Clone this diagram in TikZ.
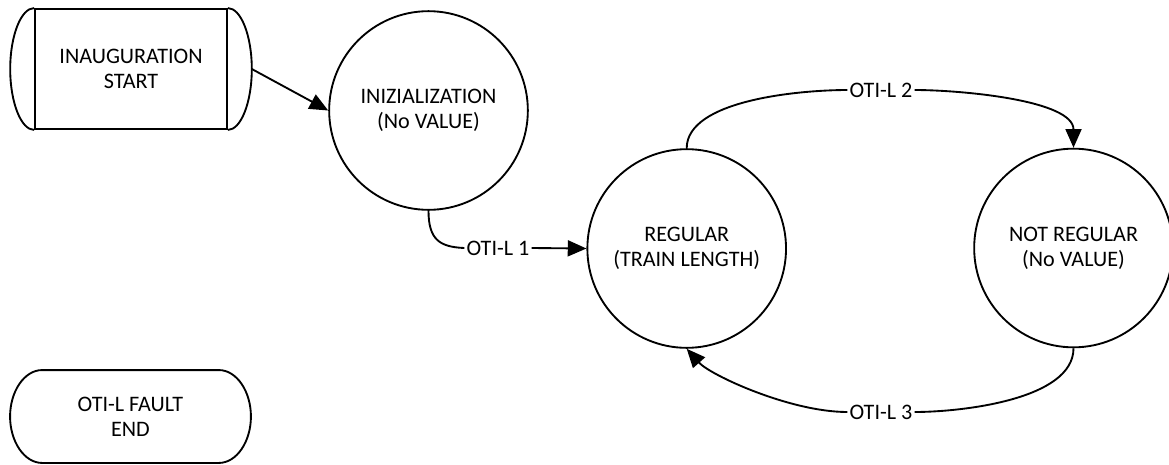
\documentclass[tikz,border=0pt]{standalone}
\usepackage{fontspec}
\setmainfont{Carlito}
\usetikzlibrary{arrows.meta}
\begin{document}
\begin{tikzpicture}[x=0.75pt,y=-0.75pt,
  line width=1.4pt,
  every node/.style={font=\fontsize{16.6pt}{18.75pt}\selectfont, align=center},
  state/.style={circle, draw, minimum size=149pt, inner sep=0pt},
  edgelabel/.style={inner sep=1pt},
  arr/.style={-{Triangle[length=14pt,width=12pt]}}]
\useasboundingbox (0,0) rectangle (1169,464);

% terminal with bars (start)
\node[draw, minimum width=143.8pt, minimum height=90pt, inner sep=0pt] (start) at (131,69)
  {INAUGURATION\\START};
\draw (start.north west) .. controls +(-13.25,0) and +(0,-33.1) .. ([xshift=-18pt]start.west)
  .. controls +(0,33.1) and +(-13.25,0) .. (start.south west);
\draw (start.north east) .. controls +(13.25,0) and +(0,-33.1) .. ([xshift=18pt]start.east)
  .. controls +(0,33.1) and +(13.25,0) .. (start.south east);
\coordinate (sr) at ([xshift=18pt]start.east);

% terminal (end)
\node[minimum width=179.25pt, minimum height=68.25pt, inner sep=0pt] (fault) at (130.5,416.5)
  {OTI-L FAULT\\END};
\draw ([xshift=24pt]fault.north west) -- ([xshift=-24pt]fault.north east)
  .. controls +(17.67,0) and +(0,-25.13) .. (fault.east)
  .. controls +(0,25.13) and +(17.67,0) .. ([xshift=-24pt]fault.south east)
  -- ([xshift=24pt]fault.south west)
  .. controls +(-17.67,0) and +(0,25.13) .. (fault.west)
  .. controls +(0,-25.13) and +(-17.67,0) .. cycle;

% states
\node[state] (init) at (428.5,110.5) {INIZIALIZATION\\(No VALUE)};
\node[state] (reg)  at (686.7,248.5) {REGULAR\\(TRAIN LENGTH)};
\node[state] (nr)   at (1073.5,248)  {NOT REGULAR\\(No VALUE)};

% transition labels
\node[edgelabel] (lab1) at (498,248) {OTI-L 1};
\node[edgelabel] (lab2) at (881,90)  {OTI-L 2};
\node[edgelabel] (lab3) at (881,412) {OTI-L 3};

% transitions
\draw[arr] (sr) -- (init.west);
\draw[arr] (init.south) .. controls (428.5,240) and (440,247) .. (lab1.west)
  (lab1.east) -- (reg.west);
\draw[arr] (reg.north) .. controls (686.7,100) and (800,90) .. (lab2.west)
  (lab2.east) .. controls (960,90) and (1073.5,100) .. (nr.north);
\draw[arr] (nr.south) .. controls (1073.5,400) and (960,412) .. (lab3.east)
  (lab3.west) .. controls (790,412) and (710,375) .. (reg.south);
\end{tikzpicture}
\end{document}
